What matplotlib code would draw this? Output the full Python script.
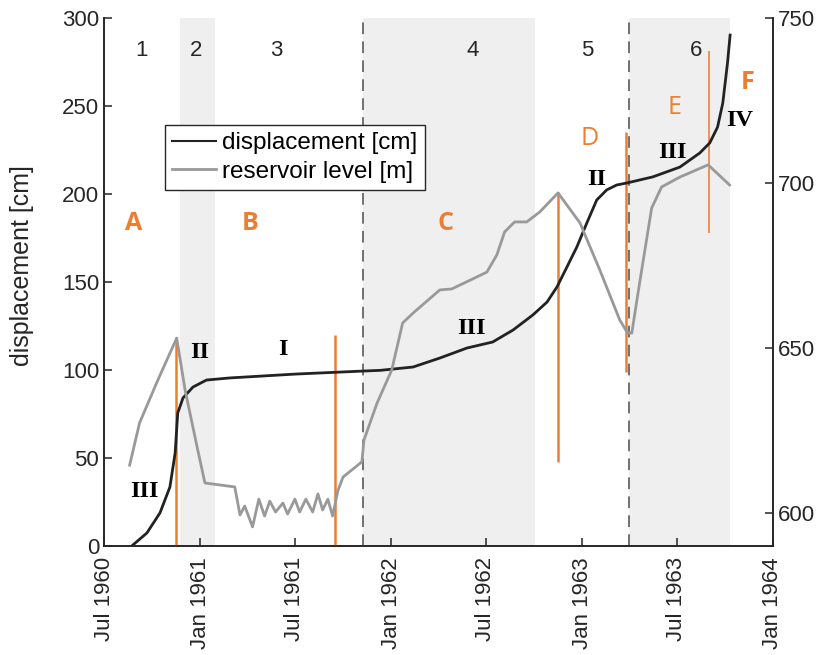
import numpy as np
import pandas as pd
import matplotlib
matplotlib.use("Agg")
import matplotlib.pyplot as plt
import matplotlib.dates as mdates
from matplotlib.lines import Line2D

plt.rcParams['font.family'] = ['Liberation Sans', 'DejaVu Sans']

# Slope displacement (cm)
disp_dates = ["1960-08-23", "1960-09-21", "1960-10-16", "1960-11-04", "1960-11-14",
              "1960-11-19", "1960-11-29", "1960-12-18", "1961-01-13", "1961-02-27",
              "1961-07-03", "1961-11-08", "1961-12-11", "1962-02-12", "1962-04-04",
              "1962-05-26", "1962-07-14", "1962-08-22", "1962-09-29", "1962-10-26",
              "1962-11-14", "1962-12-03", "1962-12-22", "1963-01-10", "1963-01-29",
              "1963-02-17", "1963-03-08", "1963-03-28", "1963-05-16", "1963-07-07",
              "1963-08-14", "1963-09-02", "1963-09-17", "1963-09-27", "1963-10-06",
              "1963-10-11"]
disp_cm = [0, 7.4, 18.8, 33.5, 52.8,
           75.6, 84.1, 90.3, 94.3, 95.5,
           97.7, 99.4, 99.8, 101.7, 106.8,
           112.5, 115.9, 122.7, 131.3, 138.6,
           147.2, 158.5, 169.9, 183.5, 196.6,
           202.3, 205.1, 206.3, 209.7, 215.3,
           223.3, 229.0, 238.0, 251.7, 274.4,
           290.3]

# Reservoir level (m a.s.l.)
res_dates = ["1960-08-19", "1960-09-07", "1960-10-12", "1960-11-17", "1960-12-03",
             "1960-12-26", "1961-01-10", "1961-03-08", "1961-03-18", "1961-03-27",
             "1961-04-11", "1961-04-23", "1961-05-04", "1961-05-14", "1961-05-25",
             "1961-06-08", "1961-06-17", "1961-07-01", "1961-07-10", "1961-07-22",
             "1961-08-04", "1961-08-14", "1961-08-23", "1961-09-02", "1961-09-11",
             "1961-09-21", "1961-10-01", "1961-11-06", "1961-11-10", "1961-12-05",
             "1962-01-02", "1962-01-23", "1962-02-12", "1962-04-04", "1962-04-27",
             "1962-07-03", "1962-07-22", "1962-08-06", "1962-08-25", "1962-09-17",
             "1962-10-12", "1962-11-16", "1962-12-28", "1963-02-04", "1963-03-14",
             "1963-03-28", "1963-04-06", "1963-04-21", "1963-05-14", "1963-06-02",
             "1963-07-07", "1963-08-30", "1963-10-10"]
res_m = [614.5, 627.3, 640.3, 653.0, 637.3,
         620.0, 609.1, 607.9, 599.4, 602.1,
         595.8, 604.2, 599.1, 603.6, 600.3,
         603.0, 599.7, 604.2, 600.3, 604.2,
         600.3, 605.8, 600.9, 604.2, 599.1,
         606.7, 610.9, 615.5, 622.1, 633.3,
         643.3, 657.6, 660.6, 667.6, 667.9,
         673.0, 678.2, 685.2, 688.2, 688.2,
         691.2, 697.0, 687.9, 673.6, 658.5,
         654.8, 654.5, 669.7, 692.4, 698.8,
         701.8, 705.5, 699.4]

# Shaded phases (2, 4, 6) and phase boundaries
shade_start = ["1960-11-23", "1961-11-08", "1963-03-31"]
shade_end = ["1961-01-29", "1962-10-03", "1963-10-10"]
dash_dates = ["1961-11-08", "1963-03-31"]

# Orange markers: date, lower and upper displacement value
mark_dates = ["1960-11-16", "1961-09-15", "1962-11-16", "1963-03-26", "1963-08-31"]
mark_low = [0, 0, 47.7, 99, 178]
mark_high = [118.8, 120, 201, 235, 281]

# Phase numbers
phase_labels = ["1", "2", "3", "4", "5", "6"]
phase_dates = ["1960-09-11", "1960-12-24", "1961-05-26", "1962-06-05", "1963-01-10", "1963-08-06"]
phase_y = 281.8

# Letters
letter_labels = ["A", "B", "C", "D", "E", "F"]
letter_dates = ["1960-08-27", "1961-04-06", "1962-04-14", "1963-01-16", "1963-06-26", "1963-11-14"]
letter_y = [183, 183, 183, 231.8, 248.9, 263.6]
letter_bold = [True, True, True, False, False, True]

# Movement stages
stage_labels = ["III", "II", "I", "III", "II", "III", "IV"]
stage_dates = ["1960-09-17", "1960-12-30", "1961-06-08", "1962-06-03", "1963-01-29", "1963-06-22", "1963-10-30"]
stage_y = [30.7, 109.7, 111.4, 123.3, 208, 223.3, 242]

xtick_dates = pd.date_range("1960-07-01", "1964-01-01", freq="6MS")

to_dt = lambda s: pd.to_datetime(s)

fig = plt.figure(figsize=(8.24, 6.55), dpi=100)
ax = fig.add_axes([104/824, 1-546/655, 669/824, 528/655])
ax2 = ax.twinx()

orange = "#ED7D31"
dark = "#222222"
grey = "#999999"

for s, e in zip(shade_start, shade_end):
    ax.axvspan(to_dt(s), to_dt(e), color="#efefef", lw=0, zorder=0)
for d in dash_dates:
    ax.axvline(to_dt(d), color="#666666", lw=1.3, ls=(0, (6.5, 4)), zorder=1)

for i, (d, lo, hi) in enumerate(zip(mark_dates, mark_low, mark_high)):
    ax.plot([to_dt(d), to_dt(d)], [lo, hi], color=orange if i < 4 else "#F08A4B",
            lw=1.8 if i < 4 else 1.3, zorder=3, solid_capstyle="butt")

ax.plot(to_dt(disp_dates), disp_cm, color=dark, lw=2.0, zorder=4,
        solid_joinstyle="round")
ax2.plot(to_dt(res_dates), res_m, color=grey, lw=2.0, zorder=2,
         solid_joinstyle="round")

for t, d in zip(phase_labels, phase_dates):
    ax.text(to_dt(d), phase_y, t, fontsize=16, ha="center", va="center", color="#262626")
for t, d, y, b in zip(letter_labels, letter_dates, letter_y, letter_bold):
    ax.text(to_dt(d), y, t, fontsize=18, ha="center", va="center", color=orange,
            fontweight="bold" if b else "normal", family=["Open Sans", "DejaVu Sans"])
for t, d, y in zip(stage_labels, stage_dates, stage_y):
    ax.text(to_dt(d), y, t, fontsize=17.5, ha="center", va="center", color="black",
            fontweight="bold", family=["Liberation Serif", "DejaVu Serif"])

ax.set_xlim(to_dt("1960-07-01"), to_dt("1964-01-01"))
ax.set_ylim(0, 300)
ax2.set_ylim(590, 750)
ax.set_yticks([0, 50, 100, 150, 200, 250, 300])
ax2.set_yticks([600, 650, 700, 750])
ax.set_xticks(xtick_dates)
ax.xaxis.set_major_formatter(mdates.DateFormatter("%b %Y"))
for lab in ax.get_xticklabels():
    lab.set_rotation(90)

for a in (ax, ax2):
    a.tick_params(direction="in", length=6, width=1.1, labelsize=16, colors="#262626")
    a.spines["top"].set_visible(False)
    for sp in a.spines.values():
        sp.set_color("#262626")
        sp.set_linewidth(1.2)
ax.tick_params(axis="x", pad=8)
ax.set_ylabel("displacement [cm]", fontsize=18, color="#262626")
ax.yaxis.set_label_coords(-0.1046, 0.532)

handles = [Line2D([], [], color=dark, lw=1.5), Line2D([], [], color=grey, lw=2.0)]
leg = ax2.legend(handles, ["displacement [cm]", "reservoir level [m]"],
                 loc="upper left", bbox_to_anchor=(0.091, 0.797), fontsize=17.5,
                 fancybox=False, framealpha=1, edgecolor="#262626",
                 handlelength=1.8, handletextpad=0.25, borderpad=0.3,
                 labelspacing=0.25, borderaxespad=0, handleheight=0.6)
leg.get_frame().set_linewidth(1.0)

fig.savefig("out.png", dpi=100)
